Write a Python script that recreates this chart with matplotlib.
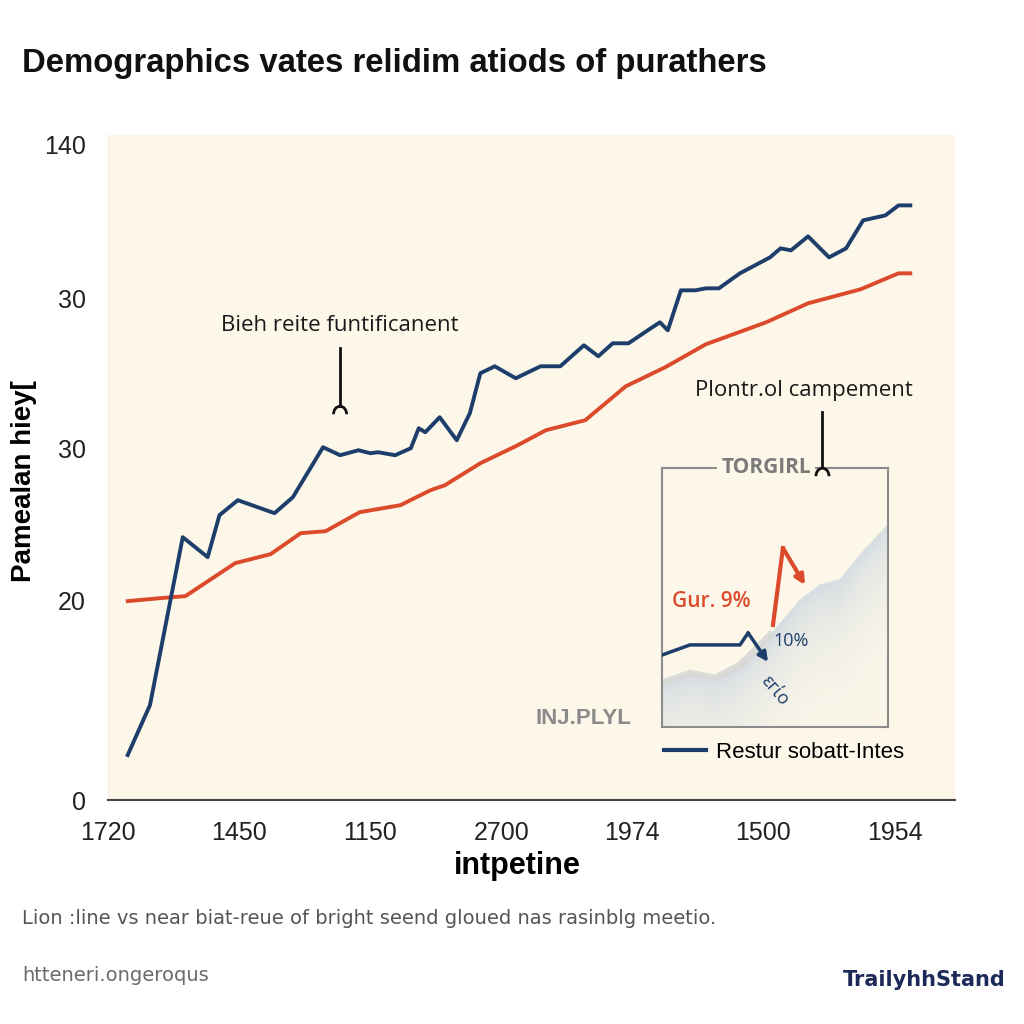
import matplotlib.pyplot as plt
from matplotlib.patches import Arc
from matplotlib.lines import Line2D
import numpy as np

# ---------------- data ----------------
x_ticks = [0, 1, 2, 3, 4, 5, 6]
x_labels = ["1720", "1450", "1150", "2700", "1974", "1500", "1954"]
y_ticks = [0, 20, 35.2, 50.2, 65.6]
y_labels = ["0", "20", "30", "30", "140"]

blue_x = [0.15, 0.32, 0.57, 0.76, 0.85, 0.99, 1.27, 1.41, 1.64, 1.77, 1.91, 2.00,
          2.06, 2.19, 2.31, 2.37, 2.42, 2.53, 2.66, 2.76, 2.84, 2.95, 3.11, 3.30,
          3.45, 3.63, 3.74, 3.85, 3.97, 4.14, 4.21, 4.27, 4.37, 4.48, 4.56, 4.66,
          4.82, 5.05, 5.13, 5.21, 5.34, 5.50, 5.63, 5.76, 5.93, 6.03, 6.12]
blue_y = [4.5, 9.5, 26.3, 24.3, 28.5, 30.0, 28.7, 30.3, 35.3, 34.5, 35.0, 34.7,
          34.8, 34.5, 35.2, 37.2, 36.8, 38.3, 36.0, 38.7, 42.7, 43.4, 42.2, 43.4,
          43.4, 45.5, 44.4, 45.7, 45.7, 47.2, 47.8, 47.0, 51.0, 51.0, 51.2, 51.2,
          52.7, 54.3, 55.2, 55.0, 56.4, 54.3, 55.2, 58.0, 58.5, 59.5, 59.5]

red_x = [0.15, 0.40, 0.59, 0.97, 1.24, 1.47, 1.66, 1.92, 2.23, 2.46, 2.57, 2.84,
         3.11, 3.34, 3.64, 3.95, 4.25, 4.56, 5.02, 5.34, 5.74, 6.03, 6.12]
red_y = [19.9, 20.2, 20.4, 23.7, 24.6, 26.7, 26.9, 28.8, 29.5, 31.0, 31.5, 33.7,
         35.4, 37.0, 38.0, 41.4, 43.3, 45.6, 47.8, 49.7, 51.1, 52.7, 52.7]

# inset (0-100 units both ways)
in_blue_x = [0, 12.4, 34.5, 38.1, 46.9]
in_blue_y = [27.8, 31.7, 31.7, 36.3, 25.1]
in_red_x = [49.1, 53.5, 63.3]
in_red_y = [39.4, 69.1, 54.8]
in_band_x = [0, 12.4, 23.5, 34.5, 47.8, 61, 70, 78.8, 87.6, 100]
in_band_y = [17, 20.8, 18.9, 23.9, 35.5, 49, 54.8, 56.8, 66.4, 78]

BLUE = "#1d3e6b"
RED = "#dc4a2c"
CREAM = "#fcf7e9"

plt.rcParams['font.family'] = ['Liberation Sans', 'DejaVu Sans']

fig = plt.figure(figsize=(10.24, 10.24), dpi=100, facecolor="white")
ax = fig.add_axes([0.1055, 0.21875, 0.827, 0.649])
ax.set_facecolor(CREAM)

ax.plot(blue_x, blue_y, color=BLUE, lw=2.8, zorder=3)
ax.plot(red_x, red_y, color=RED, lw=2.8, zorder=2)

ax.set_xlim(0, 6.46)
ax.set_ylim(0, 66.5)
ax.set_xticks(x_ticks)
ax.set_xticklabels(x_labels)
ax.set_yticks(y_ticks)
ax.set_yticklabels(y_labels)
ax.tick_params(axis="both", length=0, labelsize=18, colors="#222222")
ax.tick_params(axis="x", pad=15)
ax.tick_params(axis="y", pad=16)
for s in ["top", "right"]:
    ax.spines[s].set_visible(False)
ax.spines["left"].set_color("#f1ecdd")
ax.spines["bottom"].set_color("#444444")
ax.spines["bottom"].set_linewidth(1.5)

ax.set_xlabel("intpetine", fontsize=22, fontweight="bold", va="top")
ax.xaxis.set_label_coords(0.483, -0.076)
ax.set_ylabel("Pamealan hiey[", fontsize=20, fontweight="bold")
ax.yaxis.set_label_coords(-0.084, 0.48)

# annotations with hooks
ax.text(1.77, 47.5, "Bieh reite funtificanent", ha="center", va="center",
        fontsize=16, family=["Open Sans", "DejaVu Sans"], color="#1a1a1a")
ax.plot([1.77, 1.77], [45.2, 39.4], color="#111111", lw=2)
ax.add_patch(Arc((1.77, 38.6), 0.1, 1.6, theta1=0, theta2=180, color="#111111", lw=2))

ax.text(5.31, 41.0, "Plontr.ol campement", ha="center", va="center",
        fontsize=16, family=["Open Sans", "DejaVu Sans"], color="#1a1a1a")

ax.text(3.63, 8.2, "INJ.PLYL", ha="center", va="center", fontsize=16,
        fontweight="bold", color="#8a8a8a")

leg = ax.legend(handles=[Line2D([], [], color=BLUE, lw=3)],
                labels=["Restur sobatt-Intes"], loc="center left",
                bbox_to_anchor=(0.633, 0.072), frameon=False, fontsize=16,
                handlelength=1.9, handletextpad=0.45)

# inset
ax_in = fig.add_axes([0.6465, 0.290, 0.2207, 0.253])
ax_in.set_facecolor(CREAM)
ax_in.set_xlim(0, 100)
ax_in.set_ylim(0, 100)
ax_in.set_xticks([])
ax_in.set_yticks([])
for s in ax_in.spines.values():
    s.set_color("#8c8c8c")
    s.set_linewidth(1.5)

# soft band fading downward (gradient image under the band edge)
gx = np.linspace(0, 100, 300)
gy = np.linspace(0, 100, 300)
GX, GY = np.meshgrid(gx, gy)
top = np.interp(GX, in_band_x, in_band_y)
d = top - GY
alpha = np.where(d >= 0, 0.6 * np.exp(-d / 22), 0)
img = np.zeros((300, 300, 4))
img[..., 0] = 0.74
img[..., 1] = 0.80
img[..., 2] = 0.87
img[..., 3] = alpha
ax_in.imshow(img, extent=(0, 100, 0, 100), origin="lower", aspect="auto",
             interpolation="bilinear", zorder=0.5)
ax_in.plot(in_band_x[:5], in_band_y[:5], color="#d9d9d6", lw=5, zorder=1,
           alpha=0.9)

ax_in.plot(in_blue_x[:-1], in_blue_y[:-1], color=BLUE, lw=2.5, zorder=3)
ax_in.annotate("", xy=(in_blue_x[-1], in_blue_y[-1]),
               xytext=(in_blue_x[-2], in_blue_y[-2]),
               arrowprops=dict(arrowstyle="-|>", color=BLUE, lw=2.5,
                               mutation_scale=14, shrinkA=0, shrinkB=0))
ax_in.plot(in_red_x[:-1], in_red_y[:-1], color=RED, lw=3, zorder=3)
ax_in.annotate("", xy=(in_red_x[-1], in_red_y[-1]),
               xytext=(in_red_x[-2], in_red_y[-2]),
               arrowprops=dict(arrowstyle="-|>", color=RED, lw=3,
                               mutation_scale=14, shrinkA=0, shrinkB=0))

ax_in.text(22, 48.6, "Gur. 9%", ha="center", va="center", fontsize=15,
           color=RED, family=["Open Sans", "DejaVu Sans"], fontweight="semibold")
ax_in.text(57, 33.2, "10%", ha="center", va="center", fontsize=13,
           color=BLUE, family=["Open Sans", "DejaVu Sans"])
ax_in.text(50, 14, "εгίο", ha="center", va="center", fontsize=13,
           color=BLUE, rotation=-50, family=["Open Sans", "DejaVu Sans"])
ax_in.text(0.46, 1.0, "TORGIRL", transform=ax_in.transAxes, ha="center",
           va="center", fontsize=15, fontweight="bold", color="#7a7a7a",
           family=["Open Sans", "DejaVu Sans"],
           bbox=dict(fc=CREAM, ec="none", pad=3))

# hook above inset, drawn on top
ax_in.plot([5.45, 5.45], [38.8, 33.4], color="#111111", lw=2,
           transform=ax.transData, clip_on=False, zorder=5)
ax_in.add_patch(Arc((5.45, 32.4), 0.1, 1.6, theta1=0, theta2=180,
                    color="#111111", lw=2, transform=ax.transData,
                    clip_on=False, zorder=5))

# title and footer
fig.text(0.0215, 0.938, "Demographics vates relidim atiods of purathers",
         fontsize=23.7, fontweight="bold", color="#111111", va="center")
fig.text(0.0215, 0.103, "Lion :line vs near biat-reue of bright seend gloued nas rasinblg meetio.",
         fontsize=14, color="#555555", va="center",
         family=["Liberation Sans Narrow", "DejaVu Sans"])
fig.text(0.0215, 0.047, "htteneri.ongeroqus", fontsize=14, color="#6a6a6a",
         va="center", family=["Liberation Sans Narrow", "DejaVu Sans"])
fig.text(0.982, 0.043, "TrailyhhStand", fontsize=15, fontweight="bold",
         color="#1c2a5a", ha="right", va="center",
         family=["Liberation Sans Narrow", "DejaVu Sans"])

fig.savefig("out.png", dpi=100, facecolor="white")
